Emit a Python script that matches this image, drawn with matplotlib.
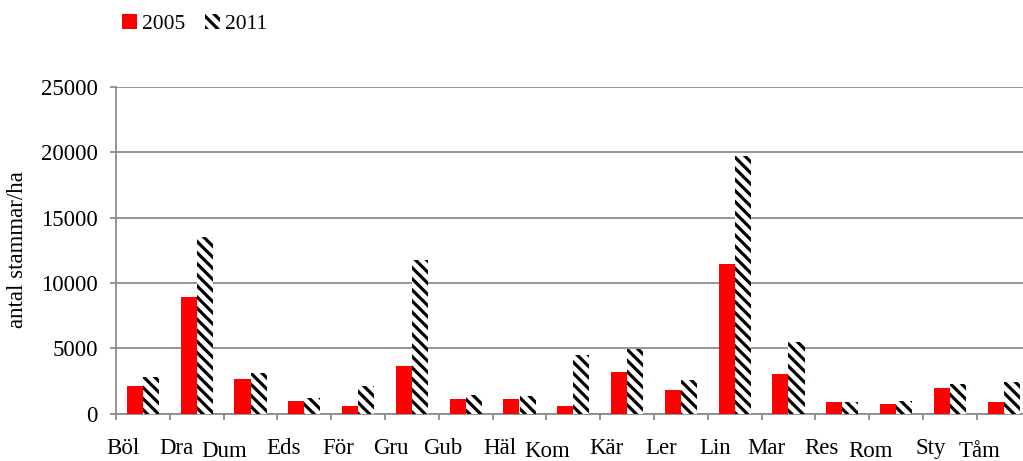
import numpy as np
import matplotlib
matplotlib.use("Agg")
from matplotlib import pyplot as plt
from matplotlib.transforms import ScaledTranslation

plt.rcParams["font.family"] = ["Liberation Serif", "DejaVu Serif"]
plt.rcParams["hatch.linewidth"] = 2.3
plt.rcParams["hatch.color"] = "black"

platser = ["Böl", "Dra", "Dum", "Eds", "För", "Gru", "Gub", "Häl", "Kom",
           "Kär", "Ler", "Lin", "Mar", "Res", "Rom", "Sty", "Tåm"]
ar2005 = [2100, 8950, 2640, 960, 570, 3640, 1110, 1110, 570,
          3200, 1800, 11450, 3020, 880, 730, 1950, 880]
ar2011 = [2800, 13500, 3100, 1200, 2100, 11750, 1420, 1340, 4480,
          4960, 2560, 19720, 5470, 880, 960, 2260, 2410]
# de längre namnen hamnar lite lägre (som i Excel)
lagre = ["Dum", "Kom", "Rom", "Tåm"]

grid_col = "#8c8c8c"
fs = 16.5

fig = plt.figure(figsize=(10.23, 4.61), dpi=100)
ax = fig.add_axes([116 / 1023, 1 - 413.5 / 461, 17 * 53.8 / 1023, 326.5 / 461])

x = np.arange(len(platser))
w = 0.3
ax.bar(x - w / 2, ar2005, w, color="red", linewidth=0, label="2005", zorder=3)
ax.bar(x + w / 2, ar2011, w, color="white", edgecolor="black", hatch="\\\\\\",
       linewidth=0, label="2011", zorder=3)

ax.set_xlim(-0.5, len(platser) - 0.5)
ax.set_ylim(0, 25000)
ax.set_yticks(np.arange(0, 25001, 5000))
ax.yaxis.grid(True, color=grid_col, linewidth=1.3)
ax.set_axisbelow(True)

for s in ["top", "right"]:
    ax.spines[s].set_visible(False)
for s in ["left", "bottom"]:
    ax.spines[s].set_color(grid_col)
    ax.spines[s].set_linewidth(1.3)

ax.set_xticks(np.arange(-0.5, len(platser), 1.0))
ax.set_xticklabels([])
ax.tick_params(axis="x", length=4.5, width=1.3, color=grid_col)
ax.tick_params(axis="y", length=4.5, width=1.3, color=grid_col, pad=8.5,
               labelsize=fs)

for i, namn in enumerate(platser):
    dy = -2.5 if namn in lagre else 0
    off = ScaledTranslation(-3.5 / 100, (-24.5 + dy) / 100, fig.dpi_scale_trans)
    ax.text(i, 0, namn, ha="right", va="top", fontsize=fs,
            transform=ax.get_xaxis_transform() + off)

fig.text(18 / 1023, 1 - 250 / 461, "antal stammar/ha", rotation=90,
         ha="center", va="center", fontsize=fs)

fig.legend(loc="upper left", bbox_to_anchor=(113 / 1023, 1 - 5 / 461), ncol=2,
           frameon=False, fontsize=15.5, handlelength=0.7, handleheight=0.7,
           handletextpad=0.25, columnspacing=0.9, borderaxespad=0)

fig.savefig("out.png", dpi=100)
